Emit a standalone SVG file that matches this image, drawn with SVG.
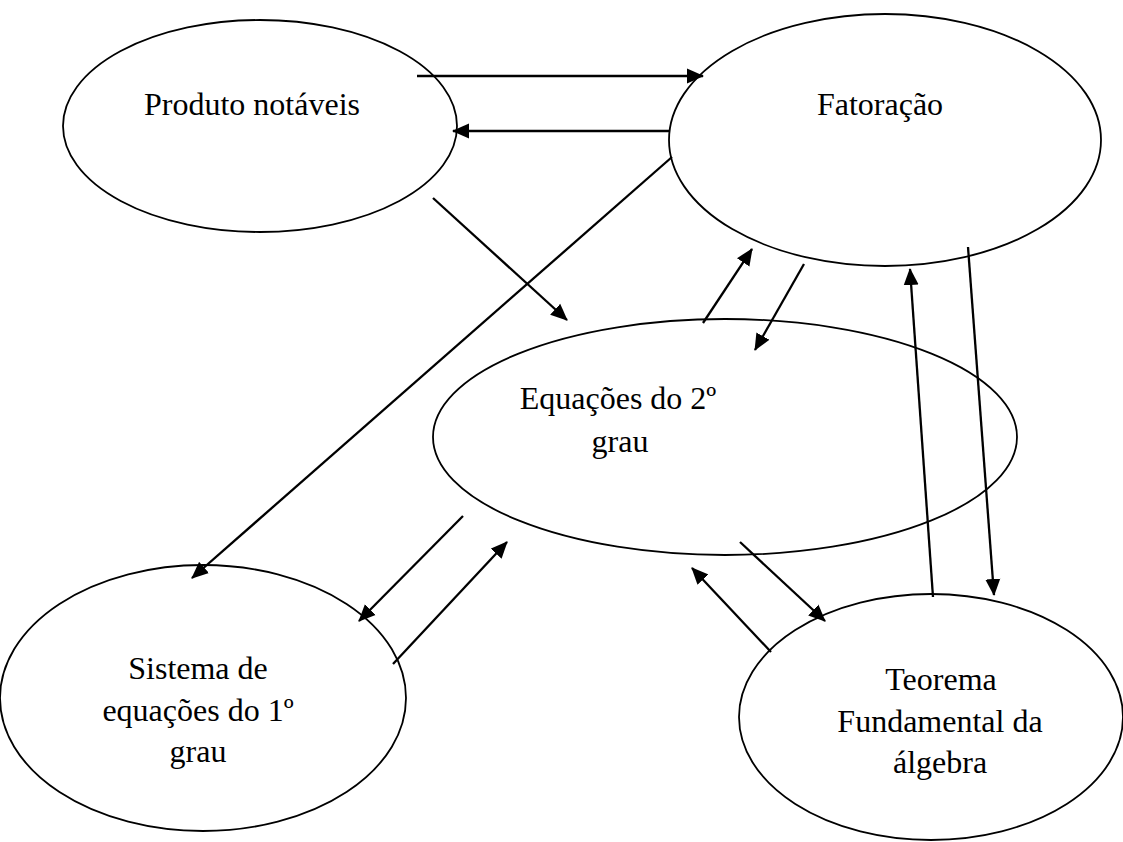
<svg xmlns="http://www.w3.org/2000/svg" width="1123" height="842" viewBox="0 0 1123 842">
<style>
.node ellipse{fill:#fff;stroke:#000;stroke-width:1.8}
.node text{font-family:"Liberation Serif","Times New Roman",serif;font-size:32px;fill:#000;text-anchor:middle}
#connectors line{stroke:#000;stroke-width:2.3;marker-end:url(#ah)}
</style>
<defs>
<marker id="ah" markerUnits="userSpaceOnUse" markerWidth="18" markerHeight="16" refX="16" refY="7.5" orient="auto" viewBox="0 0 18 15">
<path d="M0,0 L17,7.5 L0,15 z" fill="#000"/>
</marker>
</defs>
<rect width="1123" height="842" fill="#fff"/>
<g id="n-produto" class="node">
<ellipse cx="260" cy="126" rx="197" ry="106"/>
<text x="252" y="115">Produto notáveis</text>
</g>
<g id="n-fatoracao" class="node">
<ellipse cx="885" cy="140" rx="216" ry="126"/>
<text x="880" y="115">Fatoração</text>
</g>
<g id="n-equacoes" class="node">
<ellipse cx="725" cy="437" rx="292" ry="118"/>
<text x="618" y="409">Equações do 2º</text>
<text x="620" y="452">grau</text>
</g>
<g id="n-sistema" class="node">
<ellipse cx="203" cy="698" rx="203" ry="133"/>
<text x="198" y="679">Sistema de</text>
<text x="198" y="721">equações do 1º</text>
<text x="198" y="762">grau</text>
</g>
<g id="n-teorema" class="node">
<ellipse cx="931" cy="717" rx="192" ry="123"/>
<text x="941" y="690">Teorema</text>
<text x="940" y="732">Fundamental da</text>
<text x="940" y="773">álgebra</text>
</g>
<g id="connectors">
<line x1="417" y1="76" x2="703" y2="76"/>
<line x1="669" y1="131" x2="453" y2="131"/>
<line x1="433" y1="198" x2="567" y2="320"/>
<line x1="672" y1="157" x2="192" y2="578"/>
<line x1="703" y1="323" x2="752" y2="249"/>
<line x1="804" y1="264" x2="755" y2="350"/>
<line x1="463" y1="516" x2="359" y2="621"/>
<line x1="393" y1="664" x2="507" y2="542"/>
<line x1="740" y1="542" x2="825" y2="621"/>
<line x1="771" y1="652" x2="692" y2="568"/>
<line x1="933" y1="597" x2="910" y2="269"/>
<line x1="968" y1="247" x2="994" y2="595"/>
</g>
</svg>
